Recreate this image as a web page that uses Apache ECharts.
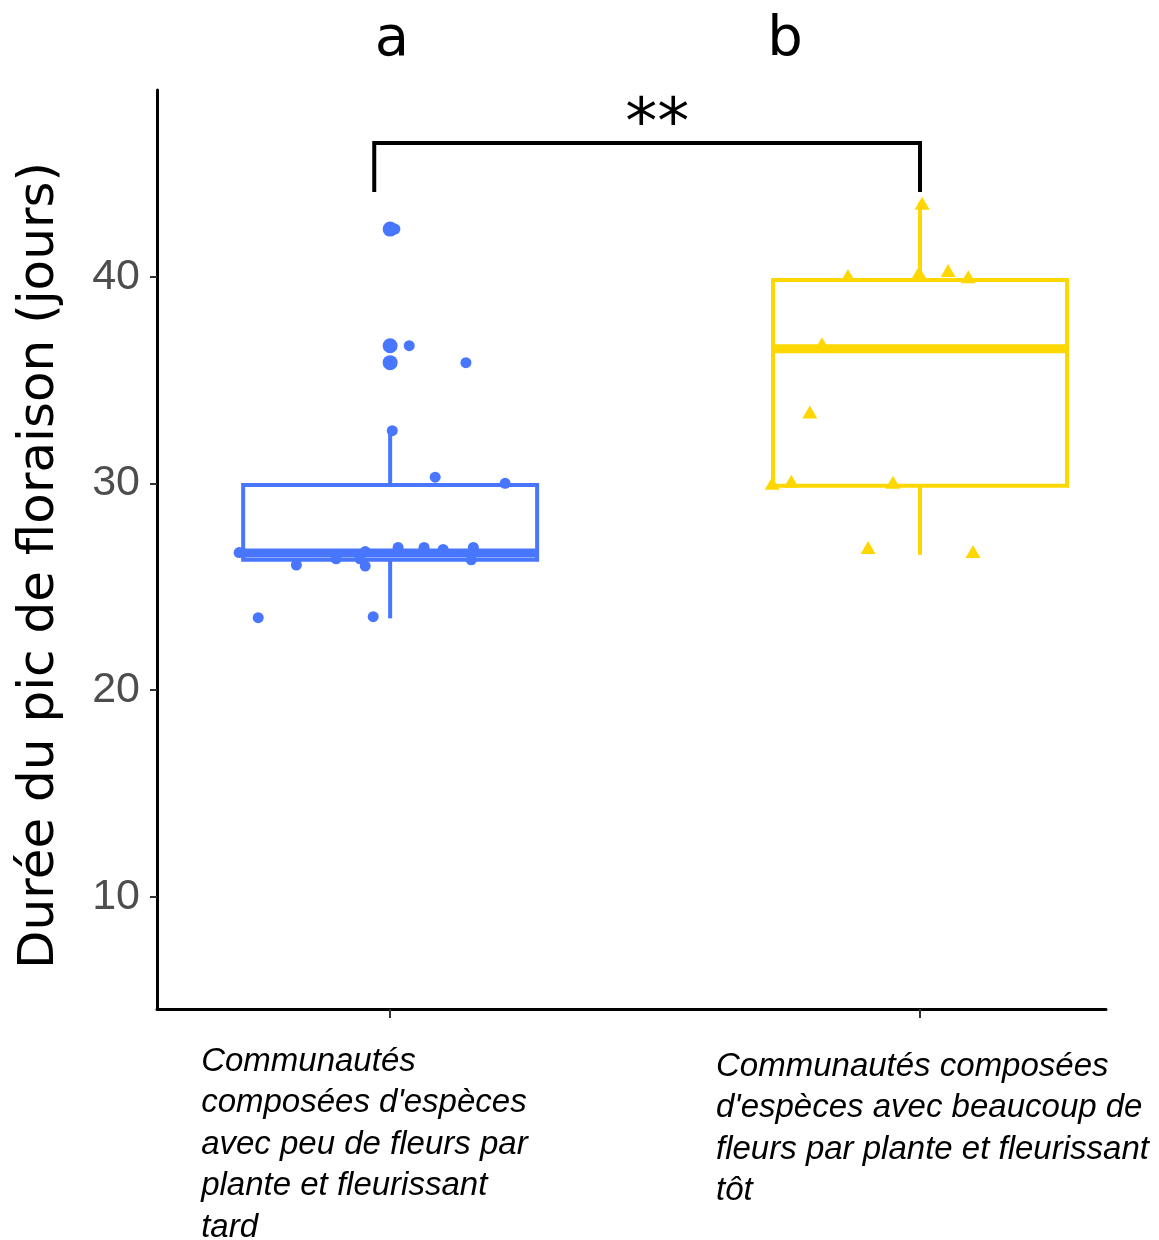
<!DOCTYPE html>
<html>
<head>
<meta charset="utf-8">
<script src="https://cdn.jsdelivr.net/npm/echarts@6/dist/echarts.min.js"></script>
<style>
  html, body { margin: 0; padding: 0; background: #fff; }
  #chart { width: 1159px; height: 1240px; }
</style>
</head>
<body>
<div id="chart"></div>
<script>
// ---- data ----
const categories = [
  "Communautés\ncomposées d'espèces\navec peu de fleurs par\nplante et fleurissant\ntard",
  "Communautés composées\nd'espèces avec beaucoup de\nfleurs par plante et fleurissant\ntôt"
];
const groupLetters = ['a', 'b'];
const yTicks = [10, 20, 30, 40];
const yAxisTitle = 'Durée du pic de floraison (jours)';

// box statistics: [lower whisker, Q1, median, Q3, upper whisker]
const boxBlue = [23.47, 26.3, 26.63, 29.92, 32.47];
const boxGold = [26.54, 29.89, 36.51, 39.84, 43.6];

// boxplot outliers (group 1)
const blueOutliers = [42.3, 36.66, 35.84];

// jittered points (x in category units, y in days)
const blueX = [1.009, 1.036, 1.143, 1.004, 1.085, 1.217, 0.715, 0.823, 0.898, 0.953, 0.953, 0.943, 1.015, 1.064, 1.100, 1.157, 1.153, 0.751, 0.968];
const blueY = [42.3, 36.66, 35.84, 32.55, 30.3, 30.0, 26.65, 26.05, 26.35, 26.7, 26.0, 26.35, 26.9, 26.9, 26.8, 26.9, 26.3, 23.5, 23.55];
const goldX = [2.004, 1.864, 1.998, 2.053, 2.091, 1.815, 1.792, 1.721, 1.757, 1.949, 1.902, 2.100];
const goldY = [43.55, 40.05, 40.2, 40.3, 40.0, 36.75, 33.45, 30.0, 30.1, 30.05, 26.9, 26.7];

// significance bracket: [x1, x2, yEnds, yTop]
const bracket = [0.97, 2.0, 44.1, 46.47];
const signifText = '**';
const signifX = 1.504;

// ---- styles ----
const BLUE = '#4876FF';
const GOLD = '#FFD700';
const boxHalf = 0.2774;

const chart = echarts.init(document.getElementById('chart'), null, { renderer: 'canvas' });

function boxRender(params, api) {
  const x = api.value(0);
  const lo = api.value(1), q1 = api.value(2), med = api.value(3), q3 = api.value(4), hi = api.value(5);
  const color = params.dataIndex === 0 ? BLUE : GOLD;
  const pLo = api.coord([x, lo]), pQ1 = api.coord([x, q1]), pMed = api.coord([x, med]);
  const pQ3 = api.coord([x, q3]), pHi = api.coord([x, hi]);
  const left = api.coord([x - boxHalf, q1])[0];
  const right = api.coord([x + boxHalf, q1])[0];
  return {
    type: 'group',
    children: [
      { type: 'line', shape: { x1: pLo[0], y1: pLo[1], x2: pQ1[0], y2: pQ1[1] }, style: { stroke: color, lineWidth: 4 } },
      { type: 'line', shape: { x1: pQ3[0], y1: pQ3[1], x2: pHi[0], y2: pHi[1] }, style: { stroke: color, lineWidth: 4 } },
      { type: 'rect', shape: { x: left, y: pQ3[1], width: right - left, height: pQ1[1] - pQ3[1] }, style: { fill: '#fff', stroke: color, lineWidth: 4 } },
      { type: 'line', shape: { x1: left, y1: pMed[1], x2: right, y2: pMed[1] }, style: { stroke: color, lineWidth: 9 } }
    ]
  };
}

function bracketRender(params, api) {
  const a = api.coord([api.value(0), api.value(2)]);
  const b = api.coord([api.value(0), api.value(3)]);
  const c = api.coord([api.value(1), api.value(3)]);
  const d = api.coord([api.value(1), api.value(2)]);
  const t = api.coord([signifX, api.value(3)]);
  return {
    type: 'group',
    children: [
      { type: 'polyline', shape: { points: [a, b, c, d] }, style: { stroke: '#000', lineWidth: 4, fill: null } },
      { type: 'text', x: t[0], y: t[1] - 17, style: { text: signifText, fontSize: 64, fontFamily: 'DejaVu Sans', fill: '#000', align: 'center', verticalAlign: 'middle' } }
    ]
  };
}

const labelRich = {
  fontSize: 33, fontStyle: 'italic', fontFamily: 'Liberation Sans', lineHeight: 41.5, color: '#000', align: 'left'
};

const option = {
  animation: false,
  backgroundColor: '#fff',
  grid: { left: 157, right: 53, top: 90, bottom: 231, containLabel: false, outerBoundsMode: 'none' },
  xAxis: {
    type: 'value', min: 0.56, max: 2.351,
    splitLine: { show: false },
    axisLine: { show: true, onZero: false, lineStyle: { color: '#000', width: 3 } },
    axisTick: { show: true, customValues: [1, 2], length: 9, lineStyle: { color: '#333', width: 2 } },
    axisLabel: {
      show: true, customValues: [1, 2], margin: 32, align: 'center', verticalAlign: 'top',
      formatter: function (v) {
        const i = Math.round(v) - 1;
        const tok = i === 0 ? 'l' : 'r';
        const lines = categories[i].split('\n').map(s => '{' + tok + '|' + s + '}');
        if (i === 1) lines.unshift('{sp| }');
        return lines.join('\n');
      },
      rich: {
        l: Object.assign({ width: 378 }, labelRich),
        r: Object.assign({ width: 408 }, labelRich),
        sp: { fontSize: 2, lineHeight: 5, width: 408, color: '#fff' }
      }
    }
  },
  yAxis: {
    type: 'value', min: 4.57, max: 49.03,
    name: yAxisTitle, nameLocation: 'middle', nameGap: 92, nameRotate: 90,
    nameTextStyle: { fontSize: 50, fontFamily: 'DejaVu Sans', color: '#000', padding: [0, 32, 0, 0] },
    splitLine: { show: false },
    axisLine: { show: true, onZero: false, lineStyle: { color: '#000', width: 3 } },
    axisTick: { show: true, customValues: yTicks, length: 7, lineStyle: { color: '#333', width: 2 } },
    axisLabel: { show: true, customValues: yTicks, margin: 17, fontSize: 43, fontFamily: 'Liberation Sans', color: '#4d4d4d' }
  },
  graphic: [
    { type: 'text', x: 392, y: 40, style: { text: groupLetters[0], fontSize: 56, fontFamily: 'DejaVu Sans', fill: '#000', align: 'center', verticalAlign: 'middle' } },
    { type: 'text', x: 785, y: 40, style: { text: groupLetters[1], fontSize: 56, fontFamily: 'DejaVu Sans', fill: '#000', align: 'center', verticalAlign: 'middle' } }
  ],
  series: [
    {
      type: 'custom', name: 'box', renderItem: boxRender, z: 1,
      encode: { x: 0, y: [1, 2, 3, 4, 5] },
      data: [[1].concat(boxBlue), [2].concat(boxGold)]
    },
    {
      type: 'scatter', name: 'outliers', symbol: 'circle', symbolSize: 15, z: 3,
      itemStyle: { color: BLUE, opacity: 1 },
      data: blueOutliers.map(v => [1, v])
    },
    {
      type: 'scatter', name: 'blue', symbol: 'circle', symbolSize: 11, z: 4,
      itemStyle: { color: BLUE, opacity: 1 },
      data: blueX.map((x, i) => [x, blueY[i]])
    },
    {
      type: 'scatter', name: 'gold', symbol: 'triangle', symbolSize: [15, 13], z: 4,
      itemStyle: { color: GOLD, opacity: 1 },
      data: goldX.map((x, i) => [x, goldY[i]])
    },
    {
      type: 'custom', name: 'bracket', renderItem: bracketRender, z: 5, clip: false,
      encode: { x: [0, 1], y: [2, 3] },
      data: [bracket]
    }
  ]
};
chart.setOption(option);
</script>
</body>
</html>
